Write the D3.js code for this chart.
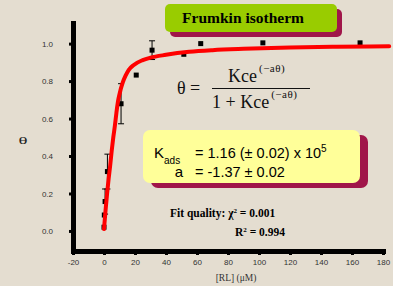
<!DOCTYPE html>
<html>
<head>
<meta charset="utf-8">
<title>Frumkin isotherm</title>
<script src="https://d3js.org/d3.v7.min.js"></script>
<style>
  body { margin: 0; background: #e4ddd0; }
  svg { display: block; }
  .axis path { stroke: #000; stroke-width: 5px; }
  .axis line { stroke: #000; stroke-width: 3px; }
  .axis text { font-family: Arial, "Liberation Sans", sans-serif; font-size: 8px; fill: #333; }
</style>
</head>
<body>
<svg width="393" height="286"></svg>
<script>
// measured points: concentration (uM), coverage, error
var concData  = [0, 0.2, 0.7, 2.2, 11, 20.8, 31, 51.5, 62.4, 102.5, 165.2];
var thetaData = [0.02, 0.085, 0.157, 0.317, 0.679, 0.832, 0.965, 0.943, 1.0, 1.004, 1.004];
var thetaErr  = [0, 0, 0.067, 0.093, 0.107, 0, 0.05, 0, 0, 0, 0];

// fitted curve
var fitConc  = [0, 1, 2, 3, 4, 5, 6, 7, 8, 9, 10, 12, 14, 16, 19, 25, 30, 40, 55, 70, 90, 120, 150, 184];
var fitTheta = [0.01, 0.11, 0.2, 0.28, 0.35, 0.43, 0.5, 0.56, 0.63, 0.69, 0.73, 0.79, 0.83, 0.86, 0.885, 0.912, 0.925, 0.94, 0.956, 0.965, 0.972, 0.979, 0.983, 0.986];

var xTicks = [-20, 0, 20, 40, 60, 80, 100, 120, 140, 160, 180];
var yTicks = [0, 0.2, 0.4, 0.6, 0.8, 1.0];

var svg = d3.select("svg");
var serif = "'Times New Roman', 'Liberation Serif', serif";
var sans = "Arial, 'Liberation Sans', sans-serif";

svg.append("rect").attr("width", 393).attr("height", 286).attr("fill", "#e4ddd0");

var x = d3.scaleLinear().domain([-20, 180]).range([73, 383]);
var y = d3.scaleLinear().domain([-0.107, 1.11]).range([251, 23]);

// axes
svg.append("g")
    .attr("class", "axis")
    .attr("transform", "translate(0,251)")
    .call(d3.axisBottom(x).tickValues(xTicks).tickFormat(function(d) { return String(d); })
      .tickSize(4).tickSizeOuter(0).tickPadding(4));

svg.append("g")
    .attr("class", "axis")
    .attr("transform", "translate(73,0)")
    .call(d3.axisLeft(y).tickValues(yTicks).tickFormat(d3.format(".1f"))
      .tickSize(4).tickSizeOuter(0).tickPadding(16));

svg.selectAll(".axis .domain").attr("stroke-linecap", "square");

// axis titles
svg.append("text")
    .attr("transform", "translate(23,144) scale(1.45,0.75)")
    .attr("text-anchor", "middle")
    .style("font-family", serif).style("font-size", "13px").attr("fill", "#222")
    .text("θ");

svg.append("text")
    .attr("x", 236).attr("y", 281)
    .attr("text-anchor", "middle")
    .style("font-family", serif).style("font-size", "9.5px").attr("fill", "#333")
    .text("[RL] (μM)");

// data points + error bars
var pts = concData.map(function(c, i) { return {c: c, t: thetaData[i], e: thetaErr[i]}; });

var eb = svg.append("g").attr("stroke", "#000").attr("stroke-width", 1);
pts.filter(function(d) { return d.e > 0; }).forEach(function(d) {
  eb.append("line").attr("x1", x(d.c)).attr("x2", x(d.c)).attr("y1", y(d.t - d.e)).attr("y2", y(d.t + d.e));
  eb.append("line").attr("x1", x(d.c) - 3).attr("x2", x(d.c) + 3).attr("y1", y(d.t + d.e)).attr("y2", y(d.t + d.e));
  eb.append("line").attr("x1", x(d.c) - 3).attr("x2", x(d.c) + 3).attr("y1", y(d.t - d.e)).attr("y2", y(d.t - d.e));
});

svg.append("g").selectAll("rect")
    .data(pts)
  .enter().append("rect")
    .attr("x", function(d) { return x(d.c) - 2.5; })
    .attr("y", function(d) { return y(d.t) - 2.5; })
    .attr("width", 5).attr("height", 5)
    .attr("fill", "#000");

// fit curve
var line = d3.line()
    .curve(d3.curveMonotoneX)
    .x(function(d) { return x(d[0]); })
    .y(function(d) { return y(d[1]); });

svg.append("path")
    .datum(fitConc.map(function(c, i) { return [c, fitTheta[i]]; }))
    .attr("d", line)
    .attr("fill", "none")
    .attr("stroke", "#ff0000")
    .attr("stroke-width", 4)
    .attr("stroke-linecap", "round");

// title box
svg.append("rect").attr("x", 170).attr("y", 9).attr("width", 172).attr("height", 28).attr("rx", 5).attr("fill", "#a0164a");
svg.append("rect").attr("x", 165).attr("y", 4).attr("width", 172).attr("height", 28).attr("rx", 5).attr("fill", "#99cc00");
svg.append("text")
    .attr("x", 243).attr("y", 23)
    .attr("text-anchor", "middle")
    .style("font-family", serif).style("font-size", "15.5px").style("font-weight", "bold")
    .text("Frumkin isotherm");

// equation
var eq = svg.append("g").style("font-family", serif).attr("fill", "#111");
eq.append("text").attr("x", 177).attr("y", 94).style("font-size", "18px").text("θ =");
eq.append("line").attr("x1", 212).attr("x2", 310).attr("y1", 88.5).attr("y2", 88.5)
    .attr("stroke", "#111").attr("stroke-width", 1);
var num = eq.append("text").attr("x", 228).attr("y", 82).style("font-size", "18px");
num.append("tspan").text("Kce");
num.append("tspan").attr("dx", 2).attr("dy", -10).style("font-size", "11px").style("letter-spacing", "0.5px").text("(−aθ)");
var den = eq.append("text").attr("x", 212).attr("y", 108).style("font-size", "18px");
den.append("tspan").text("1 + Kce");
den.append("tspan").attr("dx", 2).attr("dy", -10).style("font-size", "11px").style("letter-spacing", "0.5px").text("(−aθ)");

// parameter box
svg.append("rect").attr("x", 151).attr("y", 135).attr("width", 217).attr("height", 53).attr("rx", 7).attr("fill", "#a0164a");
svg.append("rect").attr("x", 143).attr("y", 130).attr("width", 217).attr("height", 53).attr("rx", 7).attr("fill", "#ffff99");
var pb = svg.append("g").style("font-family", sans).attr("fill", "#000");
var k = pb.append("text").attr("x", 154).attr("y", 157.5).style("font-size", "15px");
k.append("tspan").text("K");
k.append("tspan").attr("dy", 6).style("font-size", "10px").text("ads");
pb.append("text").attr("x", 195).attr("y", 157.5).style("font-size", "14.5px")
  .call(function(t) {
    t.append("tspan").text("= 1.16 (± 0.02) x 10");
    t.append("tspan").attr("dy", -6).style("font-size", "10px").text("5");
  });
pb.append("text").attr("x", 183).attr("y", 177).attr("text-anchor", "end").style("font-size", "15px").text("a");
pb.append("text").attr("x", 195).attr("y", 177).style("font-size", "14.5px").text("= -1.37 ± 0.02");

// fit quality
var fq = svg.append("g").style("font-family", serif).style("font-weight", "bold").style("font-size", "11.5px");
var l1 = fq.append("text").attr("x", 170).attr("y", 217);
l1.append("tspan").text("Fit quality: χ");
l1.append("tspan").attr("dy", -4).style("font-size", "7px").text("2");
l1.append("tspan").attr("dy", 4).text(" = 0.001");
var l2 = fq.append("text").attr("x", 235).attr("y", 236);
l2.append("tspan").text("R");
l2.append("tspan").attr("dy", -4).style("font-size", "7px").text("2");
l2.append("tspan").attr("dy", 4).text(" = 0.994");
</script>
</body>
</html>
